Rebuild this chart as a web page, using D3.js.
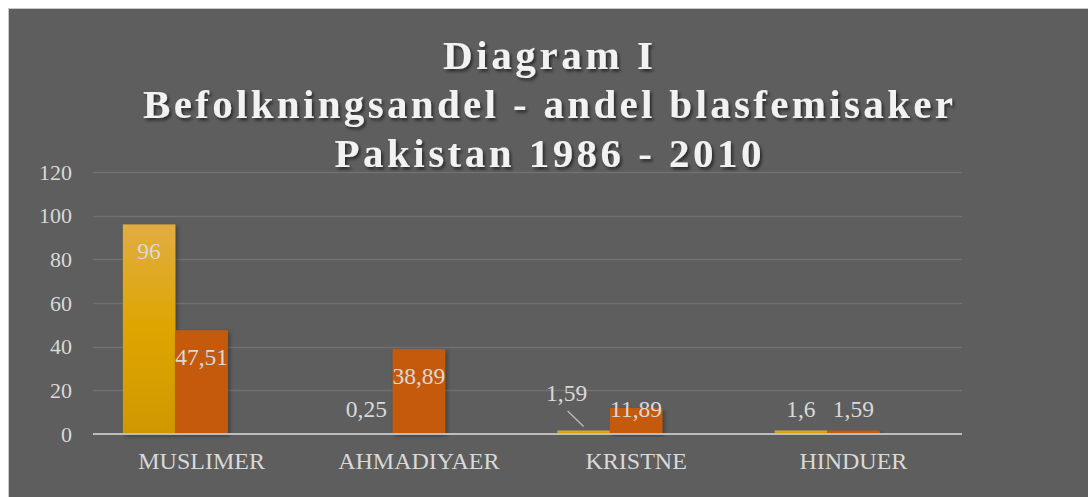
<!DOCTYPE html>
<html>
<head>
<meta charset="utf-8">
<script src="https://cdn.jsdelivr.net/npm/d3@7"></script>
<style>
  body { margin: 0; background: #fff; }
  svg { display: block; }
</style>
</head>
<body>
<svg width="1088" height="497"></svg>
<script>
// data
const categories = ['MUSLIMER', 'AHMADIYAER', 'KRISTNE', 'HINDUER'];
const befolkning = [96, 0.25, 1.59, 1.6];
const blasfemi = [47.51, 38.89, 11.89, 1.59];
const yTicks = [0, 20, 40, 60, 80, 100, 120];
const titleLines = ['Diagram I', 'Befolkningsandel - andel blasfemisaker', 'Pakistan 1986 - 2010'];

// excel reserves a third (empty) series slot in every group
const slots = ['befolkning', 'blasfemi', 'tom'];

const svg = d3.select('svg');
const serif = '"Liberation Serif", "Times New Roman", serif';

const margin = {left: 93, right: 962, top: 172, bottom: 434};

const defs = svg.append('defs');
const grad = defs.append('linearGradient')
    .attr('id', 'gold')
    .attr('x1', 0).attr('y1', 0).attr('x2', 0).attr('y2', 1);
grad.append('stop').attr('offset', '0%').attr('stop-color', '#e1ad42');
grad.append('stop').attr('offset', '50%').attr('stop-color', '#dea500');
grad.append('stop').attr('offset', '100%').attr('stop-color', '#d09800');

defs.append('filter').attr('id', 'tshadow')
    .attr('x', '-10%').attr('y', '-20%').attr('width', '120%').attr('height', '150%')
  .append('feDropShadow')
    .attr('dx', 2).attr('dy', 2.5).attr('stdDeviation', 1.5)
    .attr('flood-color', '#000').attr('flood-opacity', 0.55);

defs.append('filter').attr('id', 'bshadow')
    .attr('x', '-20%').attr('y', '-5%').attr('width', '150%').attr('height', '115%')
  .append('feDropShadow')
    .attr('dx', 2).attr('dy', 2).attr('stdDeviation', 2)
    .attr('flood-color', '#000').attr('flood-opacity', 0.35);

// chart area background
svg.append('rect')
    .attr('x', 8.5).attr('y', 8.5)
    .attr('width', 1088).attr('height', 497)
    .attr('fill', '#5e5e5e')
    .attr('stroke', '#c8c8c8')
    .attr('stroke-width', 1);

const y = d3.scaleLinear().domain([0, 120]).range([margin.bottom, margin.top]);
const x0 = d3.scaleBand().domain(categories).range([margin.left, margin.right]);
const x1 = d3.scaleBand().domain(slots).range([0, x0.bandwidth()])
    .paddingInner(0).paddingOuter(0.569);

// gridlines
svg.append('g').selectAll('line')
  .data(yTicks.filter(d => d > 0))
  .join('line')
    .attr('x1', margin.left).attr('x2', margin.right)
    .attr('y1', d => Math.round(y(d)) + 0.5)
    .attr('y2', d => Math.round(y(d)) + 0.5)
    .attr('stroke', '#717171')
    .attr('stroke-width', 1.3);

// y tick labels
const yAxis = svg.append('g')
    .attr('transform', 'translate(72,0)')
    .call(d3.axisLeft(y).tickValues(yTicks).tickSize(0).tickPadding(0));
yAxis.select('.domain').remove();
yAxis.selectAll('text')
    .attr('font-family', serif)
    .attr('font-size', 22)
    .attr('fill', '#d9d9d9');

const rows = categories.map((c, i) => ({cat: c, values: [
  {key: 'befolkning', v: befolkning[i]},
  {key: 'blasfemi', v: blasfemi[i]}
]}));

const groups = svg.append('g').selectAll('g')
  .data(rows)
  .join('g')
    .attr('transform', d => `translate(${x0(d.cat)},0)`);

groups.selectAll('rect')
  .data(d => d.values)
  .join('rect')
    .attr('x', d => x1(d.key))
    .attr('width', x1.bandwidth())
    .attr('y', d => y(d.v))
    .attr('height', d => Math.max(y(0) - y(d.v), 0.6))
    .attr('fill', d => d.key === 'befolkning' ? 'url(#gold)' : '#c55a11')
    .attr('filter', 'url(#bshadow)');

// x axis baseline
svg.append('line')
    .attr('x1', margin.left).attr('x2', margin.right)
    .attr('y1', y(0)).attr('y2', y(0))
    .attr('stroke', '#bdbdbd')
    .attr('stroke-width', 2.2);

// category labels
const xAxis = svg.append('g')
    .attr('transform', `translate(0,${y(0)})`)
    .call(d3.axisBottom(x0).tickSize(0).tickPadding(0));
xAxis.select('.domain').remove();
xAxis.selectAll('text')
    .attr('y', 35)
    .attr('dy', 0)
    .attr('font-family', serif)
    .attr('font-size', 24)
    .attr('fill', '#d9d9d9');

// data labels (inside end, pushed above short bars); one label was moved by hand
const labelNudge = {'KRISTNE|befolkning': [-17, -16]};
const fmt = v => String(v).replace('.', ',');

groups.each(function (row) {
  const g = d3.select(this);
  row.values.forEach(d => {
    const cx = x1(d.key) + x1.bandwidth() / 2;
    let base = Math.min(y(d.v) + 35, y(0) - 17);
    const nudge = labelNudge[row.cat + '|' + d.key] || [0, 0];
    const tx = cx + nudge[0];
    const ty = base + nudge[1];
    if (nudge[0] !== 0 || nudge[1] !== 0) {
      g.append('line')
          .attr('x1', tx + 1).attr('y1', ty + 10)
          .attr('x2', cx).attr('y2', y(d.v) - 4)
          .attr('stroke', '#bfbfbf')
          .attr('stroke-width', 1.2);
    }
    g.append('text')
        .attr('x', tx)
        .attr('y', ty)
        .attr('text-anchor', 'middle')
        .attr('font-family', serif)
        .attr('font-size', 23.5)
        .attr('fill', '#d9d9d9')
        .text(fmt(d.v));
  });
});

// title
const titleWidths = [210, 810, 427];
svg.append('g').selectAll('text')
  .data(titleLines)
  .join('text')
    .attr('x', 548)
    .attr('y', (d, i) => 69 + i * 49)
    .attr('text-anchor', 'middle')
    .attr('font-family', serif)
    .attr('font-weight', 'bold')
    .attr('font-size', 41)
    .attr('fill', '#f2f2f2')
    .attr('textLength', (d, i) => titleWidths[i])
    .attr('lengthAdjust', 'spacing')
    .attr('filter', 'url(#tshadow)')
    .text(d => d);
</script>
</body>
</html>
